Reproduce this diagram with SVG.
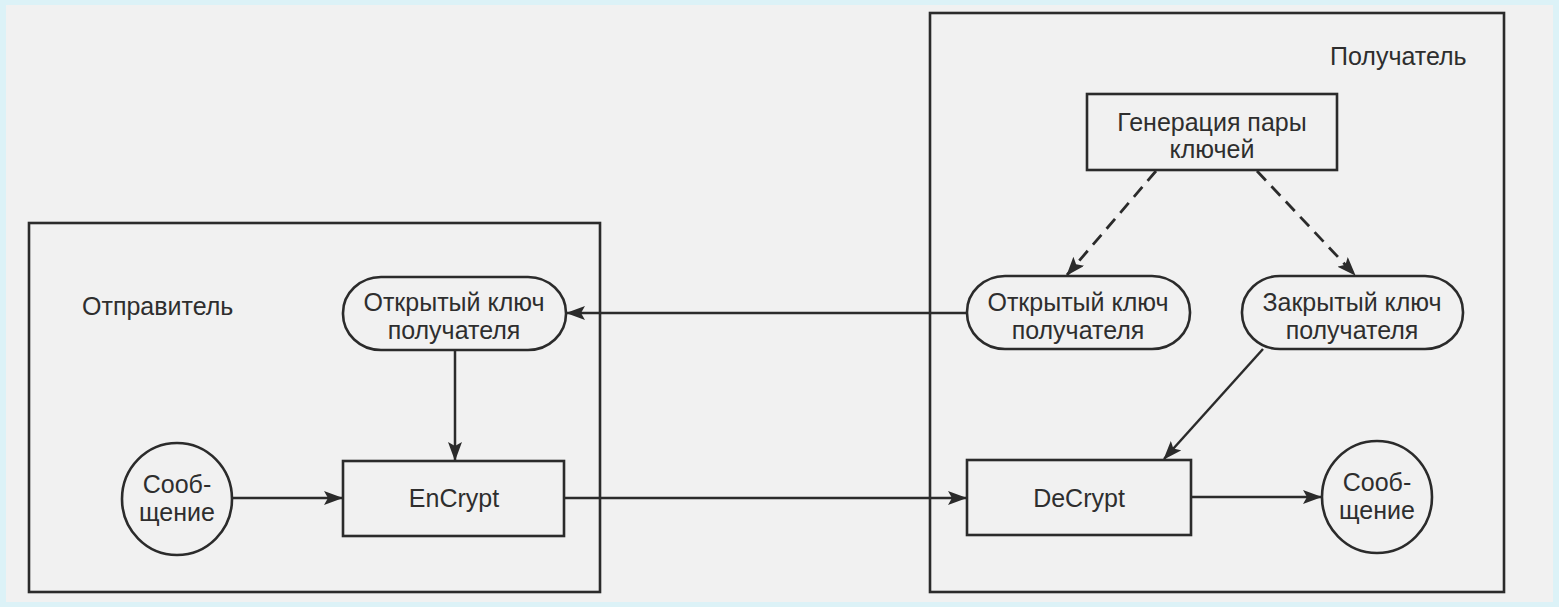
<svg xmlns="http://www.w3.org/2000/svg" width="1559" height="607" viewBox="0 0 1559 607">
<style>
.ln{fill:none;stroke:#2b2b2b;stroke-width:2.5}
.nd{fill:none;stroke:#2b2b2b;stroke-width:2.6}
.t{font-family:"Liberation Sans",Arial,sans-serif;font-size:25px;fill:#2e2e2e;text-anchor:middle}
.tl{font-family:"Liberation Sans",Arial,sans-serif;font-size:25px;fill:#2e2e2e}
.dash{stroke-dasharray:13 8;stroke-width:2.8}
</style>
<defs>
<marker id="ah" viewBox="0 0 19 14" refX="18" refY="7" markerWidth="19" markerHeight="14" markerUnits="userSpaceOnUse" orient="auto">
<path d="M0,0 L19,7 L0,14 L4,7 Z" fill="#2b2b2b"/>
</marker>
</defs>
<rect x="0" y="0" width="1559" height="607" fill="#dcf2f7"/>
<rect x="6" y="5" width="1547" height="597" fill="#f1f1f1"/>

<g id="sender">
<rect class="nd" x="29" y="223" width="571" height="369"/>
<text class="tl" x="82" y="315">Отправитель</text>
</g>
<g id="receiver">
<rect class="nd" x="930" y="13" width="574" height="579"/>
<text class="tl" x="1330" y="65">Получатель</text>
</g>

<g id="keygen">
<rect class="nd" x="1087" y="94" width="250" height="76"/>
<text class="t" x="1212" y="131">Генерация пары</text>
<text class="t" x="1212" y="158">ключей</text>
</g>
<g id="pubkey-recv">
<rect class="nd" x="967" y="276" width="223" height="73" rx="38" ry="36"/>
<text class="t" x="1078" y="311">Открытый ключ</text>
<text class="t" x="1078" y="339">получателя</text>
</g>
<g id="privkey-recv">
<rect class="nd" x="1242" y="276" width="221" height="73" rx="38" ry="36"/>
<text class="t" x="1352" y="311">Закрытый ключ</text>
<text class="t" x="1352" y="339">получателя</text>
</g>
<g id="pubkey-send">
<rect class="nd" x="343" y="277" width="223" height="73" rx="38" ry="36"/>
<text class="t" x="454" y="311">Открытый ключ</text>
<text class="t" x="454" y="339">получателя</text>
</g>
<g id="encrypt">
<rect class="nd" x="343" y="461" width="221" height="75"/>
<text class="t" x="454" y="507">EnCrypt</text>
</g>
<g id="decrypt">
<rect class="nd" x="967" y="460" width="224" height="75"/>
<text class="t" x="1079" y="507">DeCrypt</text>
</g>
<g id="msg-in">
<ellipse class="nd" cx="177" cy="499" rx="55" ry="56"/>
<text class="t" x="177" y="493">Сооб-</text>
<text class="t" x="177" y="521">щение</text>
</g>
<g id="msg-out">
<ellipse class="nd" cx="1377" cy="497" rx="55" ry="56"/>
<text class="t" x="1377" y="491">Сооб-</text>
<text class="t" x="1377" y="519">щение</text>
</g>

<g id="connectors">
<line class="ln dash" x1="1156" y1="171" x2="1067" y2="275" marker-end="url(#ah)"/>
<line class="ln dash" x1="1257" y1="171" x2="1355" y2="275" marker-end="url(#ah)"/>
<line class="ln" x1="967" y1="313" x2="567" y2="313" marker-end="url(#ah)"/>
<line class="ln" x1="455" y1="350" x2="455" y2="460" marker-end="url(#ah)"/>
<line class="ln" x1="232" y1="498" x2="342" y2="498" marker-end="url(#ah)"/>
<line class="ln" x1="564" y1="498" x2="966" y2="498" marker-end="url(#ah)"/>
<line class="ln" x1="1263" y1="349" x2="1164" y2="459" marker-end="url(#ah)"/>
<line class="ln" x1="1191" y1="497" x2="1321" y2="497" marker-end="url(#ah)"/>
</g>
</svg>
